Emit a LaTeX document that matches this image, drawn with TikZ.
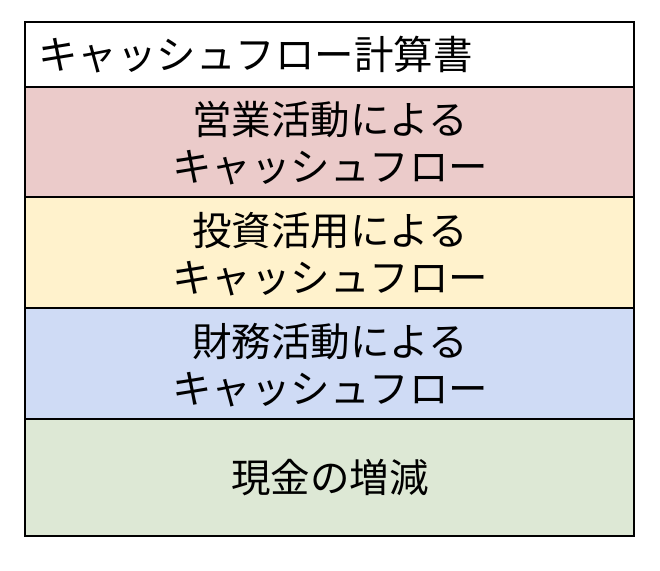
\documentclass[tikz,border=0pt]{standalone}
\usepackage{fontspec}
\setmainfont{Noto Sans CJK JP}
\definecolor{cred}{HTML}{EBCBCA}
\definecolor{cyel}{HTML}{FFF2CC}
\definecolor{cblu}{HTML}{CFDBF5}
\definecolor{cgrn}{HTML}{DDE8D5}
\begin{document}
\begin{tikzpicture}[x=1pt,y=-1pt,
  row/.style={draw=black,line width=2pt},
  lbl/.style={font=\fontsize{39.5}{47}\selectfont,align=center,inner sep=0pt}]
\useasboundingbox (0,0) rectangle (660,570);
\fill[white] (0,0) rectangle (660,570);
\draw[row,fill=white] (25,22) rectangle (634,87);
\draw[row,fill=cred] (25,87) rectangle (634,197);
\draw[row,fill=cyel] (25,197) rectangle (634,308);
\draw[row,fill=cblu] (25,308) rectangle (634,419);
\draw[row,fill=cgrn] (25,419) rectangle (634,536);
\node[lbl,anchor=west] (t) at (38,55) {キャッシュフロー計算書};
\node[lbl] (a) at (330,143) {営業活動による\\キャッシュフロー};
\node[lbl] (b) at (330,254) {投資活用による\\キャッシュフロー};
\node[lbl] (c) at (330,365) {財務活動による\\キャッシュフロー};
\node[lbl] (d) at (330,478) {現金の増減};
\end{tikzpicture}
\end{document}
